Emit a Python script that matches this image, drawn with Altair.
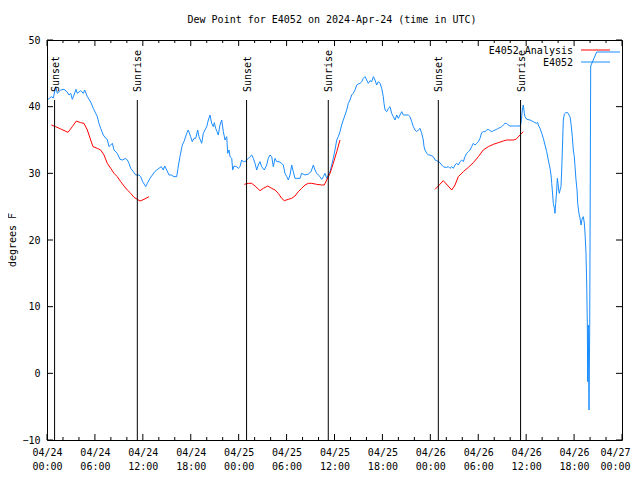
import altair as alt
import pandas as pd

# ---------------- data (hours since 2024-04-24 00:00 UTC, dew point in F) ----------------
blue_hours = [0.13, 0.54, 0.79, 1.09, 1.29, 1.72, 2.13, 2.54, 2.75, 2.97, 3.17, 3.38, 3.63, 3.79, 4.22,
              4.55, 4.72, 5.05, 5.47, 5.80, 6.10, 6.30, 6.51, 6.72, 7.05, 7.35, 7.55, 7.76, 7.98, 8.18,
              8.39, 8.80, 9.14, 9.43, 9.85, 10.06, 10.27, 10.48, 10.81, 11.11, 11.52, 11.73, 11.98, 12.36,
              12.56, 12.90, 13.19, 13.49, 13.74, 14.02, 14.31, 14.56, 14.74, 14.99, 15.28, 15.56, 15.90,
              16.24, 16.40, 16.65, 16.94, 17.15, 17.49, 17.69, 17.99, 18.19, 18.41, 18.62, 18.87, 19.03,
              19.37, 19.57, 19.78, 20.00, 20.20, 20.41, 20.62, 20.82, 20.95, 21.12, 21.29, 21.45, 21.66,
              21.88, 22.08, 22.29, 22.50, 22.63, 22.79, 22.92, 23.13, 23.25, 23.42, 23.75, 23.95, 24.17,
              24.38, 24.58, 24.79, 25.01, 25.21, 25.42, 25.63, 25.83, 26.05, 26.26, 26.46, 26.67, 26.88,
              27.21, 27.51, 27.71, 27.92, 28.14, 28.34, 28.55, 28.76, 29.05, 29.39, 29.59, 29.80, 30.02,
              30.22, 30.43, 30.64, 30.84, 31.05, 31.27, 31.68, 31.89, 32.31, 32.72, 33.06, 33.35, 33.56,
              33.77, 33.97, 34.19, 34.40, 34.60, 34.81, 35.02, 35.22, 35.44, 35.65, 35.85, 36.06, 36.28,
              36.48, 36.69, 36.90, 37.10, 37.32, 37.53, 37.73, 37.94, 38.15, 38.35, 38.57, 38.78, 38.98,
              39.19, 39.41, 39.61, 39.82, 40.03, 40.23, 40.45, 40.66, 40.86, 41.07, 41.28, 41.49, 41.70,
              41.91, 42.11, 42.20, 42.33, 42.54, 42.74, 42.95, 43.16, 43.36, 43.58, 43.79, 43.99, 44.20,
              44.42, 44.62, 44.83, 45.24, 45.45, 45.67, 45.87, 46.08, 46.29, 46.49, 46.71, 46.92, 47.12,
              47.21, 47.33, 47.55, 47.75, 47.96, 48.37, 48.59, 48.80, 49.00, 49.21, 49.42, 49.62, 49.84,
              50.05, 50.25, 50.46, 50.68, 50.88, 51.09, 51.30, 51.50, 51.72, 51.93, 52.13, 52.34, 52.55,
              52.76, 52.97, 53.18, 53.38, 53.59, 53.81, 54.01, 54.22, 54.43, 54.63, 54.85, 55.06, 55.26,
              55.47, 55.69, 55.89, 56.10, 56.31, 56.51, 56.73, 56.94, 57.14, 57.35, 57.56, 57.76, 57.98,
              58.39, 58.81, 59.23, 59.35, 59.52, 59.64, 59.77, 59.85, 60.07, 60.48, 60.89, 61.11, 61.32,
              61.44, 61.52, 61.73, 61.95, 62.15, 62.36, 62.57, 62.77, 62.99, 63.11, 63.20, 63.27, 63.40,
              63.53, 63.61, 63.70, 63.82, 63.90, 63.99, 64.07, 64.15, 64.24, 64.36, 64.45, 64.53, 64.65,
              64.78, 64.95, 65.20, 65.36, 65.49, 65.61, 65.78, 65.90, 66.03, 66.12, 66.24, 66.37, 66.45,
              66.62, 66.74, 66.87, 67.03, 67.16, 67.28, 67.37, 67.49, 67.58, 67.66, 67.70, 67.78, 67.87,
              67.96, 68.08, 68.83, 71.75]
blue_dewpt = [41.1, 41.5, 41.3, 43.0, 42.0, 42.5, 42.6, 42.2, 41.75, 42.0, 41.1, 41.75, 42.6, 42.0, 42.4,
              42.0, 42.5, 41.5, 40.7, 39.75, 39.0, 38.5, 37.5, 36.75, 35.75, 35.25, 35.1, 34.0, 34.25, 34.5,
              33.5, 33.0, 32.1, 32.0, 32.25, 32.0, 31.5, 30.75, 30.25, 29.75, 29.75, 29.5, 28.75, 28.0,
              28.5, 29.25, 29.75, 30.25, 30.5, 30.75, 31.0, 30.5, 31.1, 30.5, 29.75, 29.75, 29.5,
              29.5, 30.75, 32.5, 34.25, 34.75, 36.0, 36.5, 35.5, 34.75, 35.25, 35.25, 36.5, 35.5,
              34.5, 36.0, 36.5, 37.0, 38.0, 38.75, 37.5, 37.0, 37.6, 36.75, 36.25, 35.75, 37.25,
              38.0, 36.25, 35.0, 35.5, 33.0, 33.5, 32.5, 32.25, 30.5, 31.1, 31.0, 30.75, 31.0,
              32.0, 31.75, 31.75, 32.0, 32.25, 32.5, 32.75, 32.25, 31.5, 30.5, 31.25, 31.75, 31.0,
              30.5, 31.25, 32.25, 32.75, 32.5, 31.0, 32.25, 31.75, 31.75, 31.5, 31.25, 30.0, 29.5,
              29.0, 29.75, 31.25, 30.25, 29.25, 29.25, 29.25, 30.0, 29.75, 29.9, 30.25, 31.25, 30.5,
              30.0, 29.75, 29.5, 29.1, 29.5, 30.0, 29.25, 29.75, 30.25, 31.25, 32.25, 33.5, 35.0,
              35.5, 36.25, 37.25, 38.0, 38.75, 39.5, 40.5, 41.0, 41.75, 42.0, 42.5, 43.25, 43.4,
              43.5, 43.75, 44.25, 44.5, 44.0, 43.5, 43.9, 43.75, 44.5, 44.0, 43.25, 43.75, 43.5,
              42.75, 41.5, 40.5, 39.5, 39.25, 39.75, 40.0, 39.0, 38.5, 38.0, 38.75, 38.25, 38.75,
              39.25, 38.75, 38.75, 38.75, 38.5, 37.75, 37.0, 36.5, 36.25, 36.5, 36.75, 36.0, 35.0,
              34.0, 33.5, 33.0, 32.75, 32.75, 32.5, 32.0, 31.9, 31.75, 31.6, 31.25, 31.0, 30.9,
              30.9, 31.0, 30.75, 31.0, 30.75, 31.25, 31.5, 31.25, 31.75, 32.0, 31.75, 32.5, 33.0,
              33.25, 33.5, 34.0, 34.5, 34.25, 34.5, 34.75, 35.25, 36.1, 36.25, 36.25, 36.5, 36.6,
              36.4, 36.25, 36.4, 36.5, 36.6, 36.75, 36.85, 37.0, 37.25, 37.5, 37.5, 37.25, 37.1,
              37.1, 37.1, 37.1, 37.5, 39.5, 40.25, 39.0, 38.5, 38.1, 38.0, 37.75, 37.6, 37.5,
              37.65, 37.25, 36.75, 36.0, 35.25, 34.25, 33.25, 32.0, 30.75, 29.75, 28.5, 27.5, 25.5,
              24.75, 24.0, 25.5, 27.5, 29.25, 28.5, 27.5, 27.0, 27.5, 28.0, 30.5, 33.5, 38.0,
              38.9, 39.1, 39.1, 38.75, 38.5, 37.5, 35.5, 33.5, 32.5, 31.0, 29.0, 27.5, 25.5,
              23.9, 23.3, 22.25, 23.3, 23.5, 22.55, 21.05, 18.05, 13.55, 7.25, -1.25, 7.25, -5.5,
              7.55, 46.1, 48.2, 48.2]

red_hours = [0.54, 1.09, 1.72, 2.63, 3.17, 3.67, 4.22, 4.63, 5.05, 5.47, 5.76, 6.30, 6.72, 7.14, 7.55,
             7.98, 8.39, 8.80, 9.23, 9.64, 10.06, 10.48, 10.89, 11.31, 11.65, 12.15, 12.77,
             24.71, 25.21, 25.63, 26.05, 26.67, 27.09, 27.64, 28.14, 28.55, 28.96, 29.39, 29.71, 30.22,
             30.64, 31.05, 31.47, 31.89, 32.31, 32.72, 33.15, 33.77, 34.40, 34.72, 35.02, 35.44, 35.85,
             36.28, 36.69,
             48.59, 49.00, 49.62, 50.12, 50.68, 51.09, 51.50, 52.13, 52.76, 53.38, 54.01, 54.63, 55.26,
             55.89, 56.51, 57.14, 57.56, 58.39, 58.72, 59.23, 59.64]
red_dewpt = [37.25, 37.0, 36.65, 36.15, 37.0, 37.85, 37.6, 37.5, 36.5, 35.0, 34.0, 33.75, 33.5, 32.75, 31.5,
             30.75, 30.0, 29.5, 28.75, 28.1, 27.5, 27.0, 26.4, 26.1, 25.85, 26.1, 26.5,
             28.35, 28.5, 28.5, 28.1, 27.4, 27.75, 28.1, 27.75, 27.5, 27.0, 26.25, 25.9, 26.1,
             26.25, 26.6, 27.25, 27.75, 28.25, 28.5, 28.5, 28.35, 28.25, 28.25, 29.0, 30.0, 31.5,
             33.25, 35.0,
             27.6, 28.1, 28.9, 28.25, 27.5, 28.25, 29.5, 30.25, 30.9, 31.6, 32.5, 33.5, 34.0,
             34.35, 34.6, 34.85, 35.0, 35.0, 35.1, 35.75, 36.25]
red_segment = [1] * 27 + [2] * 28 + [3] * 21

event_hours = [0.95, 11.31, 24.99, 35.22, 49.0, 59.3]
event_labels = ["Sunset", "Sunrise", "Sunset", "Sunrise", "Sunset", "Sunrise"]

x_major = list(range(0, 73, 6))
x_minor = [h for h in range(0, 73, 2) if h % 6]
y_major = list(range(-10, 51, 10))

title_text = "Dew Point for E4052 on 2024-Apr-24 (time in UTC)"
y_title = "degrees F"
legend_labels = ["E4052 Analysis", "E4052"]

# ---------------- style ----------------
FONT = "DejaVu Sans Mono"
BLUE = "#1a8cff"
RED = "#ff0000"
W, H = 575, 400

blue_df = pd.DataFrame({"h": blue_hours, "v": blue_dewpt})
red_df = pd.DataFrame({"h": red_hours, "v": red_dewpt, "seg": red_segment})
ev_df = pd.DataFrame({"h": event_hours, "label": event_labels})

x_scale = alt.Scale(domain=[0, 72], nice=False, zero=False)
y_scale = alt.Scale(domain=[-10, 50], nice=False, zero=False)

x_axis = alt.Axis(values=x_major, ticks=False, domain=False, grid=False, title=None,
                  labelFont=FONT, labelFontSize=10, labelColor="black", labelPadding=7,
                  labelLineHeight=14, labelBaseline="top", labelAngle=0, labelFlush=False,
                  labelOverlap=False,
                  labelOffset={"condition": {"test": "datum.value == 72", "value": -7}, "value": 0},
                  labelExpr="['04/' + (24 + floor(datum.value / 24)), "
                            "(datum.value % 24 < 10 ? '0' : '') + (datum.value % 24) + ':00']")
y_axis = alt.Axis(values=y_major, ticks=False, domain=False, grid=False, title=None,
                  labelFont=FONT, labelFontSize=10, labelColor="black", labelPadding=7,
                  labelOverlap=False, labelFlush=False)


def X(field="h"):
    return alt.X(field, type="quantitative", scale=x_scale, axis=x_axis)


def Y(field="v"):
    return alt.Y(field, type="quantitative", scale=y_scale, axis=y_axis)


blue = alt.Chart(blue_df).mark_line(color=BLUE, strokeWidth=1).encode(x=X(), y=Y())
red = alt.Chart(red_df).mark_line(color=RED, strokeWidth=1).encode(x=X(), y=Y(), detail="seg:N")

ev_lines = alt.Chart(ev_df).mark_rule(color="black", strokeWidth=1).encode(
    x=X(), y=alt.datum(-10), y2=alt.datum(41))
ev_text = alt.Chart(ev_df).mark_text(angle=270, align="left", baseline="middle", font=FONT,
                                     fontSize=10, color="black", dy=1).encode(
    x=X(), y=alt.datum(42.2), text="label:N")

xmaj = pd.DataFrame({"h": x_major})
xmin = pd.DataFrame({"h": x_minor})
ymaj = pd.DataFrame({"v": y_major})
tick_layers = [
    alt.Chart(xmaj).mark_rule(color="black").encode(x=X(), y=alt.value(H), y2=alt.value(H - 6)),
    alt.Chart(xmaj).mark_rule(color="black").encode(x=X(), y=alt.value(0), y2=alt.value(6)),
    alt.Chart(xmin).mark_rule(color="black").encode(x=X(), y=alt.value(H), y2=alt.value(H - 3)),
    alt.Chart(xmin).mark_rule(color="black").encode(x=X(), y=alt.value(0), y2=alt.value(3)),
    alt.Chart(ymaj).mark_rule(color="black").encode(y=Y(), x=alt.value(0), x2=alt.value(6)),
    alt.Chart(ymaj).mark_rule(color="black").encode(y=Y(), x=alt.value(W), x2=alt.value(W - 6)),
]

one = alt.Data(values=[{}])
title = alt.Chart(one).mark_text(font=FONT, fontSize=10, color="black", align="center",
                                 baseline="middle").encode(
    x=alt.value(285), y=alt.value(-20), text=alt.value(title_text))
ytitle = alt.Chart(one).mark_text(font=FONT, fontSize=10, color="black", align="center",
                                  baseline="middle", angle=270).encode(
    x=alt.value(-34), y=alt.value(200), text=alt.value(y_title))
leg_t1 = alt.Chart(one).mark_text(font=FONT, fontSize=10, color="black", align="right",
                                  baseline="middle").encode(
    x=alt.value(526), y=alt.value(10.5), text=alt.value(legend_labels[0]))
leg_t2 = alt.Chart(one).mark_text(font=FONT, fontSize=10, color="black", align="right",
                                  baseline="middle").encode(
    x=alt.value(526), y=alt.value(23), text=alt.value(legend_labels[1]))
leg_l1 = alt.Chart(one).mark_rule(color=RED, strokeWidth=1).encode(
    x=alt.value(534), x2=alt.value(563), y=alt.value(10))
leg_l2 = alt.Chart(one).mark_rule(color=BLUE, strokeWidth=1).encode(
    x=alt.value(534), x2=alt.value(563), y=alt.value(22))

chart = alt.layer(
    blue, red, ev_lines, ev_text, *tick_layers, title, ytitle, leg_t1, leg_t2, leg_l1, leg_l2
).properties(
    width=W, height=H,
    autosize=alt.AutoSizeParams(type="none"),
    padding={"left": 39, "top": 32, "right": 10, "bottom": 30},
    background="white",
).configure_view(stroke="black", strokeWidth=1)

chart.save("out.html", embed_options={"renderer": "svg", "actions": False})
